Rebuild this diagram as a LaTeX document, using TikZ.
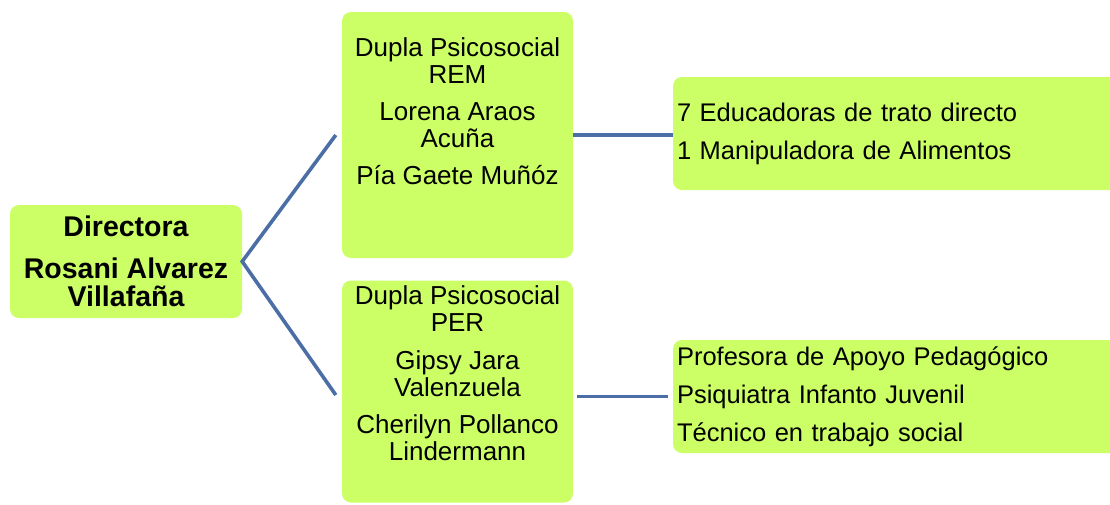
\documentclass[tikz,border=0pt]{standalone}
\usepackage{fontspec}
\setmainfont{Liberation Sans}
\definecolor{limefill}{RGB}{204,255,102}
\definecolor{linkblue}{RGB}{74,110,165}
\begin{document}
\begin{tikzpicture}
      [ x=1pt, y=-1pt
      , box/.style={fill=limefill, rounded corners=9pt, inner sep=0pt}
      , names/.style={align=center, inner sep=0pt, font=\fontsize{26}{27.5}\selectfont}
      , staff/.style={box, align=left, inner sep=4pt, text width=439pt, minimum height=113pt, font=\fontsize{25.5}{38}\selectfont}
      , link/.style={linkblue, line width=3.6pt}
      ]
    \useasboundingbox (0,0) rectangle (1110,504);

    \node[box, minimum width=232pt, minimum height=113pt, align=center, font=\bfseries\fontsize{28.5}{28.5}\selectfont] (dir) at (126,261.5) {Directora\\[13pt]Rosani Alvarez\\Villafaña};

    \node[box, minimum width=231pt, minimum height=246pt] (rem) at (457.5,135) {};
    \node[names, anchor=north] (remtxt) at (457.5,37) {Dupla Psicosocial\\REM\\[9pt]Lorena Araos\\Acuña\\[9pt]Pía Gaete Muñóz};

    \node[box, minimum width=231pt, minimum height=222pt] (per) at (457.5,391.5) {};
    \node[names, anchor=north] (pertxt) at (457.5,285) {Dupla Psicosocial\\PER\\[10pt]Gipsy Jara\\Valenzuela\\[9pt]Cherilyn Pollanco\\Lindermann};

    \node[staff] (educ) at (896.5,133.5) {7 Educadoras de trato directo\\1 Manipuladora de Alimentos};
    \node[staff] (prof) at (896.5,396.5) {Profesora de Apoyo Pedagógico\\Psiquiatra Infanto Juvenil\\Técnico en trabajo social};

    \draw[link]
    ([xshift=-6pt]rem.west) -- (dir.east) -- ([xshift=-6pt, yshift=-3.5pt]per.west);

    \draw[link, shorten <=4pt, shorten >=5pt]
    (rem.east) -- (educ.west |- rem.east)
    (per.east |- prof.west) -- (prof.west);
\end{tikzpicture}
\end{document}
